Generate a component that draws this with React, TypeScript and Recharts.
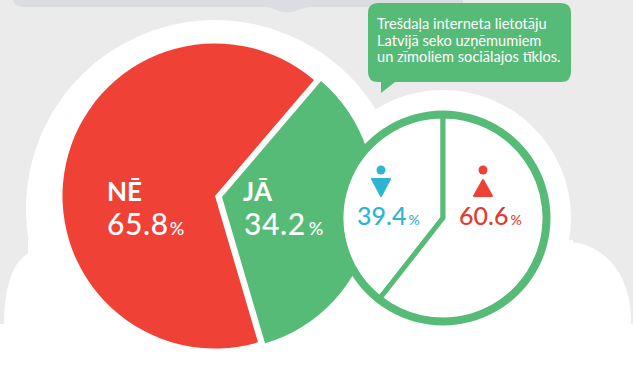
import { Cell, Pie, PieChart } from "recharts";

const ANSWER_LABELS = ["JĀ", "NĒ"];
const ANSWER_VALUES = [34.2, 65.8];
const ANSWER_COLORS = ["#57bb78", "#ef4135"];

const GENDER_LABELS = ["Sievietes", "Vīrieši"];
const GENDER_VALUES = [39.4, 60.6];
const GENDER_COLORS = ["#2fb4d0", "#e03c31"];

const NOTE_LINES = [
  "Trešdaļa interneta lietotāju",
  "Latvijā seko uzņēmumiem",
  "un zīmoliem sociālajos tīklos."
];

const yesData = [{ name: ANSWER_LABELS[0], value: ANSWER_VALUES[0] }];
const noData = [{ name: ANSWER_LABELS[1], value: ANSWER_VALUES[1] }];
const genderData = GENDER_LABELS.map((name, i) => ({ name, value: GENDER_VALUES[i] }));
const ringData = [{ name: "ring", value: 1 }];

const GREEN = "#57bb78";
const FONT = "Lato, 'Open Sans', sans-serif";
const START_ANGLE = 49.5;
const SPLIT_ANGLE = START_ANGLE - ANSWER_VALUES[0] * 3.6;

const layer: React.CSSProperties = { position: "absolute", left: 0, top: 0 };

function Backdrop() {
  return (
    <svg width={633} height={379} style={layer}>
      <rect width={633} height={379} fill="#ebebeb" />
      <path
        d="M13 0 C14 5 18 7 25 7 L262 7 C275 7 278 12.5 287 12.5 C296 12.5 300 7 315 7 L463 7 L463 0 Z"
        fill="#dcdde0"
      />
      <path d="M4 324 C4 292 11 262 29 253 L60 253 L60 324 Z" fill="#fff" />
      <path d="M568 242 C602 243 632 272 631 324 L568 324 Z" fill="#fff" />
      <rect y={324} width={633} height={55} fill="#fff" />
      <rect x={28} y={240} width={545} height={90} fill="#fff" />
      <circle cx={215} cy={209} r={189} fill="#fff" />
      <circle cx={443} cy={218} r={128} fill="#fff" />
    </svg>
  );
}

function Overlay() {
  return (
    <svg width={633} height={379} style={layer}>
      <path
        d="M378 3 H561 Q571 3 571 13 V72 Q571 82 561 82 H395 L381 93 V82 H378 Q368 82 368 72 V13 Q368 3 378 3 Z"
        fill={GREEN}
      />
      <g fontFamily={FONT} fontSize={14.6} fill="#fff">
        {NOTE_LINES.map((line, i) => (
          <text key={line} x={377} y={29 + i * 16.5}>
            {line}
          </text>
        ))}
      </g>

      <g fontFamily={FONT} fill="#fff">
        <text x={107} y={201} fontSize={26} fontWeight={700}>{ANSWER_LABELS[1]}</text>
        <text x={107} y={235} fontSize={30} fontWeight={500} letterSpacing={0.6}>
          {ANSWER_VALUES[1]}
          <tspan fontSize={18} dx={1}>%</tspan>
        </text>
        <text x={243} y={201} fontSize={26} fontWeight={700}>{ANSWER_LABELS[0]}</text>
        <text x={244} y={235} fontSize={30} fontWeight={500} letterSpacing={0.6}>
          {ANSWER_VALUES[0]}
          <tspan fontSize={18} dx={3}>%</tspan>
        </text>
      </g>

      <circle cx={381} cy={170} r={4.5} fill={GENDER_COLORS[0]} />
      <path
        d="M372 179 H390 L381 196 Z"
        fill={GENDER_COLORS[0]}
        stroke={GENDER_COLORS[0]}
        strokeWidth={2}
        strokeLinejoin="round"
      />
      <circle cx={483} cy={170} r={4.5} fill="#ef4135" />
      <path
        d="M483 180 L492 196 H474 Z"
        fill="#ef4135"
        stroke="#ef4135"
        strokeWidth={2}
        strokeLinejoin="round"
      />

      <g fontFamily={FONT} fontSize={25} fontWeight={500}>
        <text x={357} y={225} fill={GENDER_COLORS[0]}>
          {GENDER_VALUES[0]}
          <tspan fontSize={14} dx={2}>%</tspan>
        </text>
        <text x={459} y={225} fill={GENDER_COLORS[1]}>
          {GENDER_VALUES[1]}
          <tspan fontSize={14} dx={2}>%</tspan>
        </text>
      </g>
    </svg>
  );
}

export default function App() {
  return (
    <div style={{ position: "absolute", left: 0, top: 0, width: 633, height: 379, overflow: "hidden" }}>
      <Backdrop />
      <div style={layer}>
        <PieChart width={633} height={379} margin={{ top: 0, right: 0, bottom: 0, left: 0 }}>
          {/* the two slices are pulled apart, so each one gets its own centre */}
          <Pie
            data={noData}
            dataKey="value"
            nameKey="name"
            cx={215}
            cy={196}
            innerRadius={0}
            outerRadius={152.5}
            startAngle={SPLIT_ANGLE}
            endAngle={START_ANGLE - 360}
            fill={ANSWER_COLORS[1]}
            stroke="none"
            isAnimationActive={false}
          />
          <Pie
            data={yesData}
            dataKey="value"
            nameKey="name"
            cx={222}
            cy={197}
            innerRadius={0}
            outerRadius={152.5}
            startAngle={START_ANGLE}
            endAngle={SPLIT_ANGLE}
            fill={ANSWER_COLORS[0]}
            stroke="none"
            isAnimationActive={false}
          />
          <Pie
            data={genderData}
            dataKey="value"
            nameKey="name"
            cx={443}
            cy={218}
            innerRadius={0}
            outerRadius={102}
            startAngle={90}
            endAngle={450}
            stroke={GREEN}
            strokeWidth={5}
            isAnimationActive={false}
          >
            {genderData.map((d) => (
              <Cell key={d.name} fill="#fff" />
            ))}
          </Pie>
          <Pie
            data={ringData}
            dataKey="value"
            cx={443}
            cy={218}
            innerRadius={100}
            outerRadius={107.5}
            startAngle={90}
            endAngle={450}
            fill={GREEN}
            stroke="none"
            isAnimationActive={false}
          />
        </PieChart>
      </div>
      <Overlay />
    </div>
  );
}
